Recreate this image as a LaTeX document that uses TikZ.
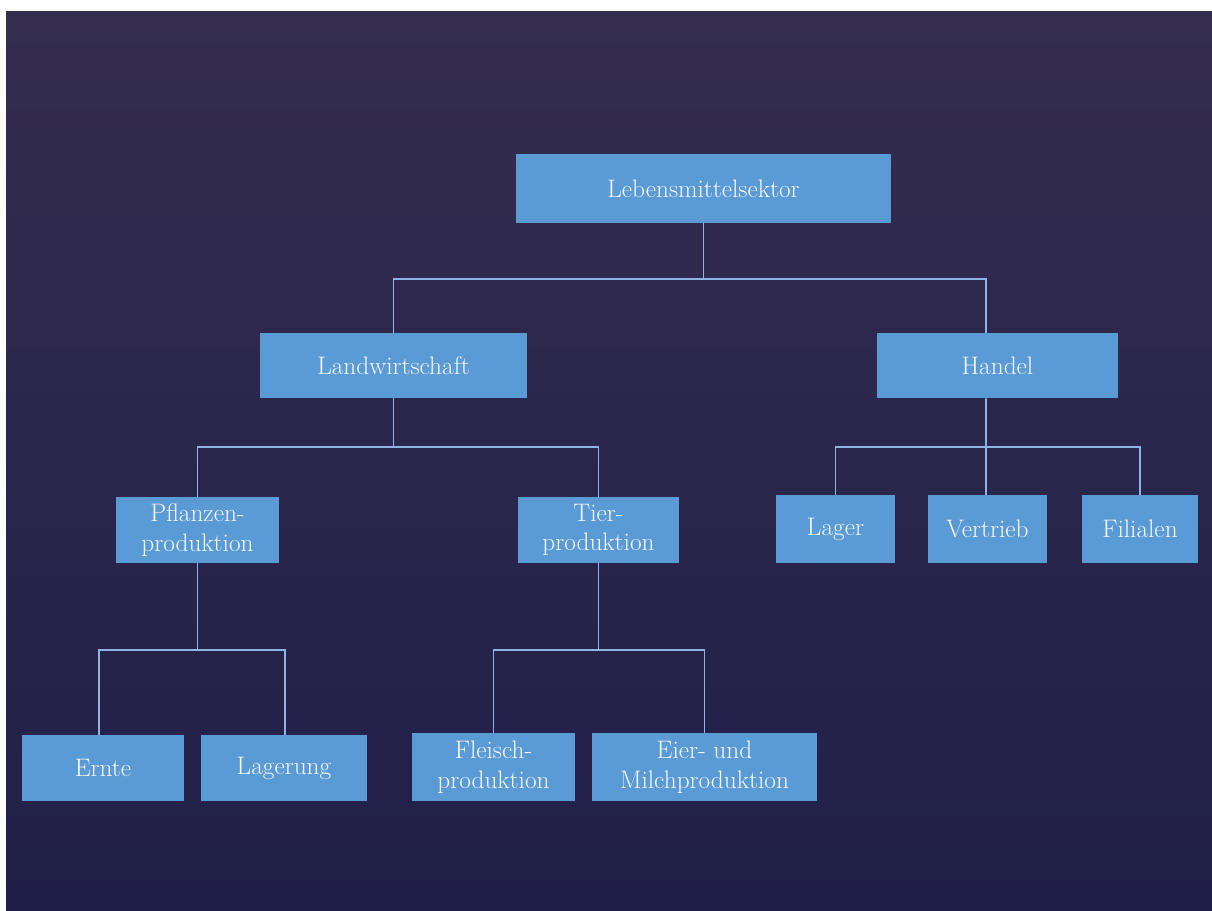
\documentclass[tikz,border=0pt]{standalone}
\usepackage[dvipsnames]{xcolor}
\usepackage{tikz}
\usetikzlibrary{positioning,calc}

\definecolor{bgtop}{HTML}{342D4E}
\definecolor{bgmid}{HTML}{3A3555}
\definecolor{bgbot}{HTML}{201F49}
\definecolor{boxblue}{HTML}{5B9BD5}
\definecolor{linkblue}{HTML}{8DB4E2}
\definecolor{boxtext}{HTML}{F6F9FD}

\begin{document}
\begin{tikzpicture}[x=0.025cm,y=-0.025cm,
    box/.style={fill=boxblue,text=boxtext,align=center,inner sep=2pt,
      font=\fontsize{18}{21}\selectfont},
    link/.style={draw=linkblue,line width=1.2pt}]
  \useasboundingbox (0,0) rectangle (1212,911);
  \fill[white] (0,0) rectangle (1212,911);
  \shade[top color=bgtop,middle color=bgmid,bottom color=bgbot] (6,12) rectangle (1212,911);

  % boxes
  \node[box,minimum width=9.375cm,minimum height=1.725cm] (sektor) at (703.5,188.5) {Lebensmittelsektor};
  \node[box,minimum width=6.675cm,minimum height=1.625cm] (landw) at (393.5,365.5) {Landwirtschaft};
  \node[box,minimum width=6.025cm,minimum height=1.625cm] (handel) at (997.5,365.5) {Handel};
  \node[box,minimum width=4.075cm,minimum height=1.65cm] (pflanz) at (197.5,530) {Pflanzen-\\produktion};
  \node[box,minimum width=4.025cm,minimum height=1.65cm] (tier) at (598.5,530) {Tier-\\produktion};
  \node[box,minimum width=2.975cm,minimum height=1.7cm] (lager) at (835.5,529) {Lager};
  \node[box,minimum width=2.975cm,minimum height=1.7cm] (vertrieb) at (987.5,529) {Vertrieb};
  \node[box,minimum width=2.9cm,minimum height=1.7cm] (filialen) at (1140,529) {Filialen};
  \node[box,minimum width=4.05cm,minimum height=1.65cm] (ernte) at (103,768) {Ernte};
  \node[box,minimum width=4.15cm,minimum height=1.65cm] (lagerung) at (284,768) {Lagerung};
  \node[box,minimum width=4.075cm,minimum height=1.7cm] (fleisch) at (493.5,767) {Fleisch-\\produktion};
  \node[box,minimum width=5.625cm,minimum height=1.7cm] (eier) at (704.5,767) {Eier- und\\Milchproduktion};

  % connectors
  \coordinate (j0) at (703.5,279);
  \coordinate (j1) at (393.5,447);
  \coordinate (j2) at (986,447);
  \coordinate (j3) at (197.5,650);
  \coordinate (j4) at (598.5,650);
  \draw[link] (sektor) -- (j0);
  \draw[link] (landw) |- (j0) -| ([xshift=-0.29cm]handel.north);
  \draw[link] (landw) -- (j1);
  \draw[link] (pflanz) |- (j1) -| (tier);
  \draw[link] ([xshift=-0.29cm]handel.south) -- (j2);
  \draw[link] (lager) |- (j2) -| (filialen);
  \draw[link] (vertrieb.north -| j2) -- (j2);
  \draw[link] (pflanz) -- (j3);
  \draw[link] ([xshift=-0.1cm]ernte.north) |- (j3) -| ([xshift=0.025cm]lagerung.north);
  \draw[link] (tier) -- (j4);
  \draw[link] (fleisch) |- (j4) -| (eier);
\end{tikzpicture}
\end{document}
